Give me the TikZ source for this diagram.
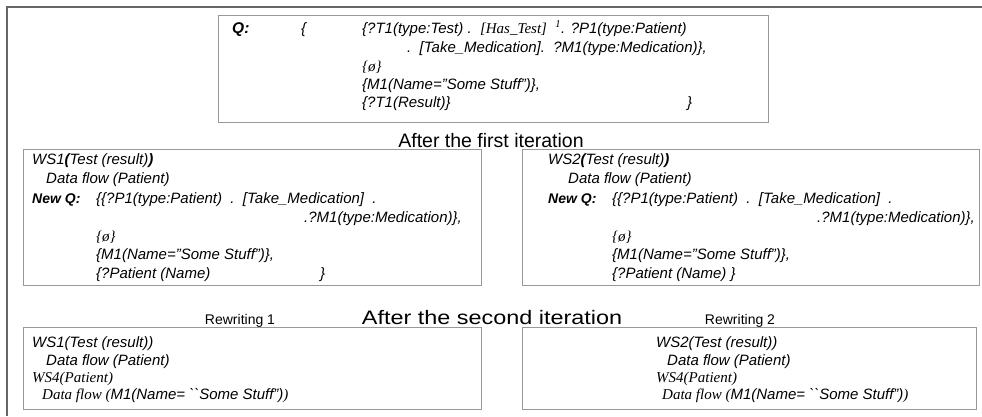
\documentclass[tikz,border=0pt]{standalone}
\usepackage{fontspec}
\usepackage{graphicx}
\setmainfont{Liberation Sans}
\newfontfamily\tms{Liberation Serif}
\usetikzlibrary{calc,positioning}

\begin{document}
\begin{tikzpicture}[x=1bp,y=-1bp,
	txt/.style={anchor=base west,inner sep=0pt,font=\itshape\fontsize{15bp}{17bp}\selectfont},
	bld/.style={txt,font=\bfseries\itshape\fontsize{14bp}{16bp}\selectfont},
	hdr/.style={anchor=base,inner sep=0pt,font=\fontsize{19.5bp}{21bp}\selectfont},
	sub/.style={anchor=base,inner sep=0pt,font=\fontsize{14bp}{16bp}\selectfont},
	box/.style={draw=black!40,line width=0.8bp}]
	\useasboundingbox (0,0) rectangle (982,416);
	\draw[black!60,line width=2bp] (7,416) -- (7,7) -- (982,7);
	
	% query
	\draw[box] (218,15) coordinate (qnw) rectangle (768,122) coordinate (qse);
	\node[bld,font=\bfseries\itshape\fontsize{15.5bp}{17bp}\selectfont] (qlab) at (232,33) {Q:};
	\node[txt] (qopen) at (301,33) {\{};
	\node[txt] (q1) at (362,33) {\{?T1(type:Test) .\ \ {\tms[Has\_Test]}\ \ \textsuperscript{\tms 1}. ?P1(type:Patient)};
	\node[txt] (q2) at (407,52) {.\ \ [Take\_Medication].\ \ ?M1(type:Medication)\},};
	\node[txt] (q3) at (362,71) {{\tms\{ø\}}};
	\node[txt] (q4) at (362,89) {\{M1(Name=”Some Stuff”)\},};
	\node[txt] (q5) at (362,107) {\{?T1(Result)\}};
	\node[txt] (qclose) at (687,107) {\}};
	
	\node[hdr] (iter1) at (491,147) {After the first iteration};
	
	% first iteration
	\foreach \b/\x/\xe/\ws/\dx/\dd/\dq/\re/\last in {a/23/481/1/9/23/73/19/{\{?Patient (Name)},b/522/979/2/26/46/90/4/{\{?Patient (Name) \}}} {
		\draw[box] (\x,149) coordinate (ws\b nw) rectangle (\xe,285) coordinate (ws\b se);
		\node[txt] (ws\b t1) at ($(ws\b nw)+(\dx,15)$) {WS\ws\textbf{(}Test (result)\textbf{)}};
		\node[txt] (ws\b t2) at ($(ws\b nw)+(\dd,34)$) {Data flow (Patient)};
		\node[bld] (ws\b t3) at ($(ws\b nw)+(\dx,54)$) {New Q:};
		\node[txt] (ws\b t4) at ($(ws\b nw)+(\dq,54)$) {\{\{?P1(type:Patient)\ \ .\ \ [Take\_Medication]\ \ .};
		\node[txt,anchor=base east] (ws\b t5) at ($(ws\b se)+(-\re,-63)$) {.?M1(type:Medication)\},};
		\node[txt] (ws\b t6) at ($(ws\b nw)+(\dq,92)$) {{\tms\{ø\}}};
		\node[txt] (ws\b t7) at ($(ws\b nw)+(\dq,110)$) {\{M1(Name=”Some Stuff”)\},};
		\node[txt] (ws\b t8) at ($(ws\b nw)+(\dq,129)$) {\last};
	}
	\node[txt] (wsaclose) at (320,278) {\}};
	
	\node[sub] (rw1) at (240,324) {Rewriting 1};
	\node[hdr] (iter2) at (492,324) {\scalebox{1.2}[1]{After the second iteration}};
	\node[sub] (rw2) at (740,324) {Rewriting 2};
	
	% second iteration
	\foreach \b/\x/\xe/\dx/\dd/\df/\ws in {a/23/481/9/23/19/1,b/522/976/134/145/140/2} {
		\draw[box] (\x,327) coordinate (rw\b nw) rectangle (\xe,409) coordinate (rw\b se);
		\node[txt] (rw\b t1) at ($(rw\b nw)+(\dx,20)$) {WS\ws(Test (result))};
		\node[txt] (rw\b t2) at ($(rw\b nw)+(\dd,38)$) {Data flow (Patient)};
		\node[txt] (rw\b t3) at ($(rw\b nw)+(\dx,55)$) {{\tms WS4(Patient)}};
		\node[txt] (rw\b t4) at ($(rw\b nw)+(\df,72)$) {{\tms Data flow (}M1(Name= \textasciigrave\textasciigrave Some Stuff”){\tms)}};
	}
\end{tikzpicture}
\end{document}
